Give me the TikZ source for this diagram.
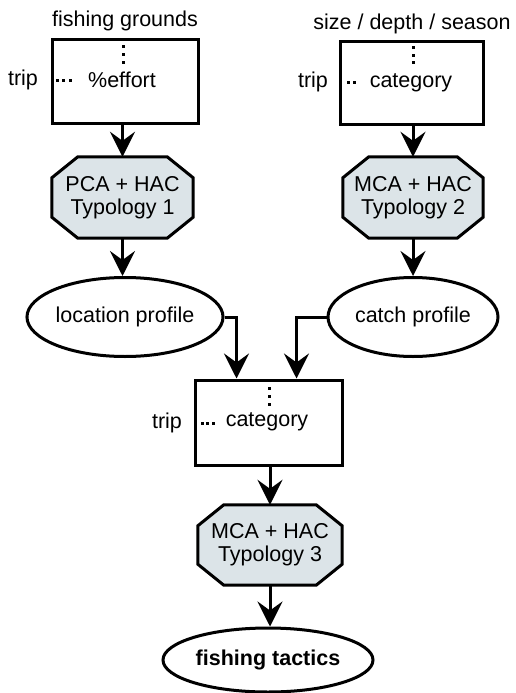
\documentclass[tikz,border=0pt]{standalone}
\usepackage{fontspec}
\setmainfont{Liberation Sans}
\usetikzlibrary{arrows.meta,backgrounds,shapes.geometric}
\definecolor{octfill}{RGB}{220,228,232}
\tikzset{
  lw/.style={line width=3pt},
  databox/.style={draw,lw,rectangle,minimum width=146pt,minimum height=83pt,inner sep=0pt},
  octnode/.style={rectangle,minimum width=141pt,minimum height=81pt,inner sep=0pt,align=center,font=\fontsize{21.5}{23}\selectfont},
  octline/.style={draw,lw,fill=octfill},
  ell/.style={draw,lw,ellipse,inner sep=0pt,font=\fontsize{21.5}{24}\selectfont},
  arr/.style={lw,-{Stealth[length=25pt,width=25pt,inset=9pt]}},
  lbl/.style={font=\fontsize{21.5}{24}\selectfont,inner sep=0pt},
  dot/.style={fill=black,minimum size=3pt,inner sep=0pt,rectangle}
}
\newcommand{\octdraw}[1]{%
  \begin{pgfonlayer}{background}
  \path[octline] ([xshift=26pt]#1.north west) -- ([xshift=-26pt]#1.north east) -- ([yshift=-21pt]#1.north east) -- ([yshift=21pt]#1.south east) -- ([xshift=-26pt]#1.south east) -- ([xshift=26pt]#1.south west) -- ([yshift=21pt]#1.south west) -- ([yshift=-21pt]#1.north west) -- cycle;
  \end{pgfonlayer}}
\begin{document}
\begin{tikzpicture}[x=1pt,y=-1pt]
\useasboundingbox (0,0) rectangle (515,693);
% box 1
\node[databox] (b1) at (125,81.5) {};
\node[lbl] (t1) at (125,21) {fishing grounds};
\node[lbl] (r1) at (23,80) {trip};
\node[lbl] (v1) at (122,80) {\%effort};
\foreach \y [count=\i] in {47,55,63} \node[dot] (b1v\i) at (123,\y) {};
\foreach \x [count=\i] in {57,63,70} \node[dot] (b1h\i) at (\x,80) {};
% box 2
\node[databox,minimum width=143pt,minimum height=82pt] (b2) at (411.5,83) {};
\node[lbl] (t2) at (412,24) {size / depth / season};
\node[lbl] (r2) at (313,82) {trip};
\node[lbl] (v2) at (411,83) {category};
\foreach \y [count=\i] in {48,56,63} \node[dot] (b2v\i) at (413,\y) {};
\foreach \x [count=\i] in {348,354} \node[dot] (b2h\i) at (\x,82) {};
% octagons 1,2
\node[octnode] (o1) at (122.5,197.5) {PCA + HAC\\Typology 1};
\octdraw{o1}
\node[octnode,minimum width=140pt] (o2) at (413,197.5) {MCA + HAC\\Typology 2};
\octdraw{o2}
% ellipses
\node[ell,minimum width=174pt,minimum height=79pt] (e1) at (125,317) {location profile};
\node[ell,minimum width=170pt,minimum height=79pt] (e2) at (413,317) {catch profile};
% box 3
\node[databox,minimum width=147pt,minimum height=85pt] (b3) at (268.5,422.5) {};
\node[lbl] (r3) at (167,423) {trip};
\node[lbl] (v3) at (267,422) {category};
\foreach \y [count=\i] in {388,396,404} \node[dot] (b3v\i) at (269,\y) {};
\foreach \x [count=\i] in {202,207,213} \node[dot] (b3h\i) at (\x,423) {};
\coordinate (in1) at ([xshift=43pt]b3.north west);
\coordinate (in2) at ([xshift=103pt]b3.north west);
% octagon 3
\node[octnode,minimum width=144pt,minimum height=80pt] (o3) at (270,545) {MCA + HAC\\Typology 3};
\octdraw{o3}
% final ellipse
\node[ell,minimum width=210pt,minimum height=64pt,font=\fontsize{21.5}{24}\selectfont\bfseries] (e3) at (268,660) {fishing tactics};
% connectors
\draw[arr] (b1.south -| o1.north) -- (o1.north);
\draw[arr] (b2.south -| o2.north) -- (o2.north);
\draw[arr] (o1.south) -- (o1.south |- e1.north);
\draw[arr] (o2.south) -- (o2.south |- e2.north);
\draw[arr] (e1.east) -| (in1);
\draw[arr] (e2.west) -| (in2);
\draw[arr] (b3.south -| o3.north) -- (o3.north);
\draw[arr] (o3.south) -- (o3.south |- e3.north);
\end{tikzpicture}
\end{document}
